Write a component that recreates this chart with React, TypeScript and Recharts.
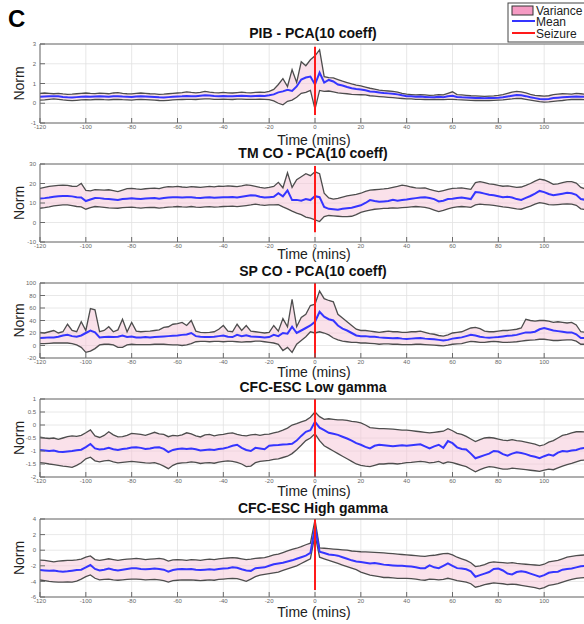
import {
  ComposedChart,
  Area,
  Line,
  XAxis,
  YAxis,
  CartesianGrid,
  ReferenceLine,
} from "recharts";

// minutes relative to seizure onset
const TIMES = [
  -120, -118, -116, -114, -112, -110, -108, -106, -104, -102,
  -100, -98, -96, -94, -92, -90, -88, -86, -84, -82,
  -80, -78, -76, -74, -72, -70, -68, -66, -64, -62,
  -60, -58, -56, -54, -52, -50, -48, -46, -44, -42,
  -40, -38, -36, -34, -32, -30, -28, -26, -24, -22,
  -20, -18, -16, -14, -12, -10, -8, -6, -4, -2,
  0, 2, 4, 6, 8, 10, 12, 14, 16, 18,
  20, 22, 24, 26, 28, 30, 32, 34, 36, 38,
  40, 42, 44, 46, 48, 50, 52, 54, 56, 58,
  60, 62, 64, 66, 68, 70, 72, 74, 76, 78,
  80, 82, 84, 86, 88, 90, 92, 94, 96, 98,
  100, 102, 104, 106, 108, 110, 112, 114, 116, 118,
  120,
];

const X_TICKS = [-120, -100, -80, -60, -40, -20, 0, 20, 40, 60, 80, 100, 120];

// PIB - PCA(10 coeff)
const PIB_MEAN = [
  0.33, 0.34, 0.35, 0.36, 0.35, 0.32, 0.3, 0.29, 0.31, 0.33,
  0.34, 0.33, 0.34, 0.35, 0.34, 0.33, 0.35, 0.36, 0.34, 0.33,
  0.32, 0.34, 0.35, 0.34, 0.33, 0.32, 0.3, 0.29, 0.31, 0.33,
  0.34, 0.35, 0.37, 0.36, 0.35, 0.38, 0.4, 0.39, 0.37, 0.36,
  0.37, 0.36, 0.35, 0.37, 0.38, 0.37, 0.36, 0.37, 0.38, 0.37,
  0.4, 0.45, 0.55, 0.6, 0.68, 0.62, 0.85, 1.2, 1.3, 1.35,
  0.95, 1.55, 1.05, 1.18, 1.1, 0.95, 0.9, 0.82, 0.76, 0.72,
  0.7, 0.66, 0.6, 0.58, 0.55, 0.52, 0.5, 0.48, 0.45, 0.4,
  0.36, 0.35, 0.33, 0.34, 0.32, 0.3, 0.31, 0.33, 0.3, 0.35,
  0.38, 0.32, 0.3, 0.29, 0.28, 0.27, 0.26, 0.25, 0.26, 0.27,
  0.28, 0.3, 0.34, 0.38, 0.42, 0.4, 0.36, 0.3, 0.26, 0.22,
  0.2, 0.22, 0.26, 0.28, 0.3, 0.32, 0.33, 0.34, 0.33, 0.32,
  0.33,
];
const PIB_UPPER = [
  0.5, 0.52, 0.5, 0.48, 0.5, 0.47, 0.45, 0.46, 0.48, 0.5,
  0.52, 0.5, 0.49, 0.51, 0.5, 0.48, 0.52, 0.54, 0.5, 0.48,
  0.47, 0.5, 0.52, 0.5, 0.48, 0.47, 0.45, 0.46, 0.48, 0.5,
  0.52, 0.54, 0.58, 0.55, 0.53, 0.55, 0.6, 0.56, 0.54, 0.53,
  0.55, 0.53, 0.52, 0.54, 0.56, 0.54, 0.53, 0.55, 0.56, 0.55,
  0.6, 0.7, 0.95, 1.25, 0.85, 1.7, 1.05, 2.1, 1.9, 2.2,
  2.4, 2.7, 1.35, 1.3, 1.28, 1.2, 1.12, 1.05, 0.98, 0.92,
  0.88, 0.82, 0.76, 0.72, 0.66, 0.64, 0.62, 0.6, 0.56, 0.5,
  0.46, 0.44, 0.42, 0.43, 0.42, 0.4, 0.41, 0.44, 0.42, 0.5,
  0.58, 0.44, 0.42, 0.4, 0.38, 0.37, 0.36, 0.35, 0.36, 0.37,
  0.4, 0.44, 0.5, 0.56, 0.6, 0.58, 0.52, 0.45, 0.4, 0.38,
  0.36, 0.38, 0.44, 0.46, 0.48, 0.47, 0.46, 0.5, 0.48, 0.46,
  0.47,
];
const PIB_LOWER = [
  0.16, 0.17, 0.2, 0.22, 0.2, 0.17, 0.15, 0.13, 0.15, 0.17,
  0.18, 0.17, 0.19, 0.2, 0.18, 0.17, 0.19, 0.2, 0.18, 0.17,
  0.16, 0.18, 0.19, 0.18, 0.17, 0.16, 0.14, 0.13, 0.15, 0.17,
  0.18, 0.19, 0.2, 0.2, 0.19, 0.21, 0.22, 0.22, 0.2, 0.2,
  0.21, 0.2, 0.19, 0.21, 0.21, 0.2, 0.2, 0.2, 0.21, 0.2,
  0.18, 0.12, 0.0, -0.08, 0.1, 0.16, 0.3, 0.5, 0.55, 0.65,
  -0.3, 0.65, 0.6, 0.62, 0.58, 0.52, 0.5, 0.48, 0.45, 0.44,
  0.43, 0.42, 0.38, 0.36, 0.34, 0.32, 0.3, 0.28, 0.26, 0.24,
  0.22, 0.22, 0.2, 0.2, 0.19, 0.18, 0.19, 0.2, 0.18, 0.2,
  0.2, 0.18, 0.17, 0.16, 0.15, 0.14, 0.14, 0.13, 0.14, 0.15,
  0.16, 0.17, 0.2, 0.22, 0.25, 0.24, 0.2, 0.16, 0.12, 0.08,
  0.06, 0.07, 0.1, 0.12, 0.14, 0.17, 0.19, 0.2, 0.19, 0.18,
  0.19,
];

// TM CO - PCA(10 coeff)
const TMCO_MEAN = [
  12.3, 12.5, 12.8, 13.2, 13.5, 13.6, 13.6, 13.4, 13.0, 12.8,
  11.0, 11.8, 12.6, 12.5, 12.2, 12.0, 11.8, 11.5, 12.0, 12.2,
  12.4, 12.2, 12.0, 12.3, 12.4, 12.5, 12.2, 12.6, 12.8, 12.9,
  13.0, 12.8, 12.9, 13.0, 12.7, 12.6, 12.8, 12.9, 12.7, 12.8,
  12.9, 13.0, 13.1, 12.8, 13.2, 13.6, 14.0, 13.8, 13.2, 12.8,
  13.0, 13.2, 15.0, 13.4, 16.5, 11.5, 11.6, 11.2, 12.0, 11.5,
  13.5, 13.0, 8.0, 7.0, 6.8, 6.6, 7.0, 7.3, 7.6, 8.2,
  8.8, 10.0, 11.5, 11.0, 10.6, 10.8, 11.0, 11.6, 11.2, 11.5,
  11.8, 12.2, 12.5, 12.8, 13.0, 12.6, 12.0, 10.8, 11.2, 12.0,
  12.2, 12.6, 12.8, 12.4, 12.0, 15.6, 15.4, 14.8, 14.2, 14.0,
  13.5, 13.0, 13.2, 12.8, 12.0, 11.6, 12.6, 13.6, 14.8, 16.2,
  15.6, 14.6, 14.0, 14.4, 14.8, 15.2, 15.0, 14.2, 12.0, 11.6,
  12.0,
];
const TMCO_UPPER = [
  17.5, 18.0, 18.5, 18.8, 19.0, 19.2, 19.0, 18.6, 18.5, 20.0,
  16.5, 16.2, 16.8, 16.7, 16.6, 16.8, 16.4, 15.8, 16.6, 17.4,
  17.5, 17.2, 17.0, 17.3, 17.5, 17.6, 17.4, 18.0, 18.4, 18.3,
  18.5, 18.2, 18.0, 18.4, 18.2, 18.0, 18.3, 18.5, 18.3, 18.6,
  18.5, 18.8, 18.6, 18.4, 18.8, 19.3, 19.0, 18.5, 18.0, 17.6,
  18.0, 18.5, 20.6, 17.8, 25.5, 18.0, 22.0, 23.5, 25.0, 24.0,
  26.0, 25.0, 15.0, 12.6, 12.0, 12.4, 13.0, 13.6, 14.0, 14.4,
  15.0, 16.0, 16.6, 16.8, 17.0, 17.2, 17.5, 18.0, 18.5, 19.2,
  18.8, 18.2, 17.8, 17.6, 17.8, 17.0, 16.4, 15.8, 16.4, 17.0,
  17.5, 17.6, 17.8, 17.4, 17.0, 20.5, 21.0, 20.4, 19.8, 19.6,
  19.0, 18.6, 18.8, 18.4, 18.0, 18.2, 19.0, 20.0, 21.2, 22.2,
  21.8, 20.8, 19.6, 19.8, 20.4, 21.0, 21.0, 20.2, 18.0, 17.2,
  17.5,
];
const TMCO_LOWER = [
  7.3, 7.6, 8.0, 8.5, 8.8, 9.0, 9.0, 8.6, 8.2, 8.0,
  6.8, 7.6, 8.2, 8.0, 7.8, 7.5, 7.4, 7.3, 7.6, 7.8,
  7.9, 7.6, 7.4, 7.6, 7.8, 7.7, 7.4, 7.6, 7.9, 8.0,
  8.2, 8.0, 7.9, 8.2, 7.9, 7.8, 8.0, 8.1, 7.9, 8.0,
  8.2, 8.3, 8.4, 8.1, 8.4, 8.7, 9.0, 9.4, 9.0, 8.8,
  9.0, 9.0, 9.2, 8.0, 7.0, 5.8, 4.8, 4.0, 2.8, 2.2,
  1.4, 0.5, 3.0, 3.6, 3.4, 3.2, 3.0, 3.0, 3.2, 4.0,
  5.2, 5.8, 6.4, 6.8, 7.0, 7.2, 7.3, 7.5, 7.4, 7.6,
  7.8, 8.0, 8.2, 8.0, 7.8, 7.2, 6.4, 5.6, 6.2, 7.0,
  7.6, 8.0, 8.2, 8.0, 7.8, 9.0, 9.4, 9.2, 9.0, 8.8,
  8.4, 8.0, 7.8, 7.4, 7.0, 6.8, 7.6, 8.4, 9.4, 10.2,
  9.8, 9.2, 9.0, 9.2, 9.4, 9.6, 9.4, 8.8, 7.0, 6.6,
  7.0,
];

// SP CO - PCA(10 coeff)
const SPCO_MEAN = [
  12, 12.5, 13, 13, 14, 16, 17, 15, 14, 16,
  20, 24, 21, 13, 13.5, 14, 13.5, 14, 16, 13.5,
  14.5, 13, 13, 13.5, 13, 13.5, 14, 14.5, 15, 15.5,
  16, 17, 17.5, 20, 15, 14, 13.5, 13.5, 14, 15,
  16, 14, 13.5, 17, 15, 16.5, 14.5, 14, 13.5, 13,
  13.5, 17, 15, 20, 19, 30, 20, 24, 28, 32,
  38, 54, 46, 42, 40, 32, 27, 24, 20, 16,
  15, 15, 14, 14, 13, 12.5, 12, 11.5, 12, 11,
  10.5, 11, 11.5, 12, 11, 10.5, 10, 9, 8, 9,
  11, 12, 13, 15, 17, 16, 14, 13, 12.5, 13,
  13.5, 14.5, 15.5, 16, 17, 19, 21, 21, 22, 26,
  28, 26, 24, 23, 22, 21, 21, 18, 12, 12,
  12.5,
];
const SPCO_UPPER = [
  21, 20, 22, 24, 20, 22, 34, 24, 22, 38,
  24, 59, 57, 22, 24, 30, 22, 25, 42, 22,
  37, 23, 22, 22.5, 23, 24, 25, 29, 30, 34,
  35, 37, 32, 40, 23, 21, 20.5, 21, 22, 26,
  32, 23, 22, 34, 24, 32, 23, 22, 21, 20,
  21, 32, 23, 43, 30, 74, 30, 45, 50, 64,
  66, 87, 75, 72, 70, 50, 44, 38, 32, 26,
  24, 24, 23, 22, 21, 22, 23, 22, 22, 21,
  21, 22, 22, 23, 21, 19, 18, 16, 15, 17,
  20, 21, 22, 25, 28, 29, 27, 23, 22, 22,
  23, 24, 24, 25, 26, 28, 42, 40, 39, 40,
  40, 39, 37, 38, 37, 36, 37, 33, 22, 21,
  22,
];
const SPCO_LOWER = [
  3, 3, 3.5, 4, 4, 4, 4, 3, 1, -3,
  -11, -9, -5, 1, 2, 2, 1, -3, -3, 1,
  2, 1.5, 1.5, 1.5, 1.5, 2, 2, 2, 1.5, 1,
  1, 0, 1, 3, 6, 6.5, 6.5, 6, 6.5, 6.5,
  6, 6.5, 6.5, 6, 5.5, 6, 6, 7, 7, 6,
  5, 4, 2, -8, -3, -11, 2, 8, 14, 22,
  20, 22, 20, 17, 12, 9, 7, 6, 5, 5,
  4, 4, 3.5, 3, 2, 2.5, 2.5, 2, 2, 1.5,
  1.5, 1.5, 2, 2, 1.5, 1, 0.5, 0, -0.5, 0.5,
  2, 2.5, 3, 5, 6.5, 6, 5, 5, 6, 6.5,
  6, 5, 5, 5.5, 6, 7, 8, 8.5, 9, 10,
  10, 9, 8, 8, 8.5, 9, 9, 7, 2, 2,
  2.5,
];

// CFC-ESC Low gamma
const LOWG_MEAN = [
  -0.96, -0.98, -1.0, -0.98, -1.03, -1.04, -1.02, -1.0, -0.97, -0.95,
  -0.85, -0.73, -0.9, -0.94, -0.92, -0.88, -0.93, -0.96, -0.92, -0.9,
  -0.87, -0.86, -0.88, -0.92, -0.9, -0.87, -0.86, -0.92, -1.04, -0.96,
  -0.92, -0.9, -0.92, -0.9, -0.93, -0.98, -0.96, -0.94, -0.96, -0.92,
  -0.9, -0.86, -0.8, -0.76, -0.88, -0.96, -1.0, -0.88, -0.9, -0.93,
  -0.8, -0.78, -0.77, -0.75, -0.74, -0.72, -0.6, -0.42, -0.26, -0.2,
  0.12, -0.1, -0.2, -0.3, -0.34, -0.38, -0.45, -0.52, -0.6, -0.7,
  -0.76, -0.84, -0.9, -0.8, -0.76, -0.78, -0.8, -0.82, -0.8, -0.78,
  -0.8, -0.78, -0.76, -0.74, -0.82, -0.9, -0.82, -0.76, -0.88, -0.62,
  -0.7, -0.86, -0.92, -0.94, -1.1, -1.28, -1.22, -1.16, -1.1, -1.0,
  -1.02, -1.12, -1.18, -1.1, -1.05, -1.08, -1.12, -1.18, -1.22, -1.28,
  -1.2, -1.14, -1.18, -1.06, -1.0, -1.02, -0.98, -0.96, -0.9, -0.88,
  -0.9,
];
const LOWG_UPPER = [
  -0.47, -0.5, -0.52, -0.5, -0.55, -0.5, -0.45, -0.42, -0.44, -0.4,
  -0.3, -0.19, -0.42, -0.48, -0.4, -0.26, -0.38, -0.46, -0.45, -0.4,
  -0.32, -0.34, -0.36, -0.4, -0.34, -0.28, -0.34, -0.36, -0.45, -0.4,
  -0.42, -0.38, -0.3, -0.34, -0.42, -0.46, -0.38, -0.36, -0.42, -0.38,
  -0.36, -0.32, -0.3, -0.36, -0.4, -0.42, -0.38, -0.36, -0.4, -0.36,
  -0.35, -0.3, -0.26, -0.2, -0.12, 0.0, 0.05, 0.12, 0.18, 0.3,
  0.5, 0.32, 0.22, 0.24, 0.22, 0.2, 0.2, 0.18, 0.14, 0.12,
  0.08, 0.0, -0.1, -0.12, -0.14, -0.14, -0.15, -0.16, -0.18, -0.2,
  -0.2, -0.22, -0.24, -0.26, -0.28, -0.3, -0.28, -0.26, -0.24, -0.14,
  -0.22, -0.32, -0.36, -0.44, -0.54, -0.64, -0.56, -0.5, -0.48, -0.5,
  -0.54, -0.58, -0.6, -0.56, -0.6, -0.62, -0.66, -0.7, -0.74, -0.8,
  -0.76, -0.66, -0.6, -0.5, -0.4, -0.36, -0.3, -0.26, -0.26, -0.27,
  -0.28,
];
const LOWG_LOWER = [
  -1.45, -1.47, -1.5, -1.52, -1.55, -1.58, -1.6, -1.63, -1.55, -1.45,
  -1.3, -1.24, -1.38, -1.42, -1.38, -1.36, -1.42, -1.46, -1.44, -1.42,
  -1.4, -1.42, -1.44, -1.46, -1.47, -1.45, -1.5, -1.58, -1.68, -1.55,
  -1.48, -1.46, -1.45, -1.42, -1.44, -1.48, -1.46, -1.45, -1.47, -1.43,
  -1.4, -1.38, -1.4, -1.44, -1.5, -1.6, -1.58, -1.45, -1.4, -1.38,
  -1.36, -1.32, -1.3, -1.25, -1.2, -1.1, -0.95, -0.78, -0.6, -0.5,
  -0.34, -0.6, -0.8, -0.9, -1.0, -1.1, -1.2, -1.3, -1.4, -1.5,
  -1.55, -1.58, -1.6, -1.55, -1.5, -1.5, -1.48, -1.48, -1.5, -1.48,
  -1.45, -1.44, -1.42, -1.4, -1.42, -1.46, -1.44, -1.4, -1.48, -1.42,
  -1.45, -1.5, -1.55, -1.6, -1.7, -1.8, -1.72, -1.65, -1.6, -1.62,
  -1.66, -1.7, -1.7, -1.66, -1.68, -1.7, -1.72, -1.74, -1.76, -1.78,
  -1.74, -1.7, -1.72, -1.65, -1.58, -1.52, -1.48, -1.42, -1.36, -1.35,
  -1.36,
];

// CFC-ESC High gamma
const HIGHG_MEAN = [
  -2.54, -2.6, -2.65, -2.6, -2.7, -2.75, -2.7, -2.62, -2.55, -2.5,
  -2.2, -1.9, -2.4, -2.6, -2.5, -2.35, -2.5, -2.6, -2.5, -2.4,
  -2.3, -2.3, -2.4, -2.45, -2.4, -2.35, -2.4, -2.5, -2.75, -2.55,
  -2.45, -2.4, -2.45, -2.4, -2.5, -2.55, -2.5, -2.45, -2.5, -2.4,
  -2.35, -2.3, -2.2, -2.25, -2.45, -2.6, -2.65, -2.3, -2.25, -2.2,
  -2.0, -1.8, -1.7, -1.6, -1.45, -1.3, -1.1, -0.9, -0.7, -0.35,
  3.0, -0.2, -0.35, -0.55, -0.6, -0.7, -0.9, -1.1, -1.3, -1.45,
  -1.5, -1.6, -1.7, -1.65, -1.75, -1.85, -1.9, -1.95, -2.0, -2.0,
  -2.05, -2.1, -2.2, -2.3, -2.3, -1.95, -2.2, -2.3, -2.0, -1.7,
  -2.0, -2.3, -2.35, -2.45, -2.7, -3.4, -3.2, -3.0, -2.8, -2.4,
  -2.35, -2.6, -3.0, -3.1, -2.8, -2.7, -2.8, -3.0, -3.2, -3.4,
  -3.2, -2.9, -2.8, -2.75, -2.5, -2.4, -2.35, -2.2, -2.05, -2.0,
  -2.1,
];
const HIGHG_UPPER = [
  -1.26, -1.3, -1.4, -1.5, -1.4, -1.35, -1.3, -1.3, -1.25, -1.15,
  -0.9, -0.74, -1.2, -1.3, -1.2, -1.1, -1.2, -1.3, -1.2, -1.15,
  -1.1, -1.05, -1.1, -1.2, -1.15, -1.1, -1.05, -1.15, -1.4, -1.25,
  -1.2, -1.25, -1.3, -1.2, -1.25, -1.3, -1.2, -1.15, -1.2, -1.1,
  -1.05, -1.0, -0.95, -1.0, -1.1, -1.2, -1.15, -1.05, -1.0, -0.95,
  -0.8, -0.6, -0.5, -0.3, -0.1, 0.1, 0.25, 0.45, 0.7, 0.9,
  3.9, 0.3, 0.25, 0.2, 0.15, 0.1, 0.05, 0.0, -0.1, -0.15,
  -0.2, -0.22, -0.25, -0.28, -0.3, -0.35, -0.4, -0.45, -0.5, -0.55,
  -0.6, -0.65, -0.7, -0.75, -0.8, -0.7, -0.65, -0.55, -0.45, -0.4,
  -0.6, -0.9, -1.1, -1.3, -1.6, -2.1, -2.0, -1.85, -1.6, -1.5,
  -1.55, -1.6, -1.65, -1.6, -1.7, -1.75, -1.8, -1.85, -1.9, -1.95,
  -1.8, -1.5, -1.4, -1.3, -1.1, -0.9, -0.8, -0.7, -0.65, -0.6,
  -0.65,
];
const HIGHG_LOWER = [
  -3.82, -3.9, -4.0, -4.05, -4.1, -4.1, -4.05, -4.1, -3.95, -3.7,
  -3.4, -3.18, -3.6, -3.8, -3.75, -3.7, -3.8, -3.85, -3.8, -3.75,
  -3.7, -3.72, -3.75, -3.8, -3.78, -3.75, -3.8, -3.9, -4.1, -3.9,
  -3.85, -3.8, -3.82, -3.8, -3.85, -3.9, -3.85, -3.8, -3.85, -3.75,
  -3.7, -3.65, -3.6, -3.65, -3.8, -4.0, -3.7, -3.4, -3.2, -3.1,
  -3.0, -2.9, -2.8, -2.6, -2.4, -2.2, -2.0, -1.7, -1.4, -1.1,
  2.0, -0.9, -1.1, -1.3, -1.5, -1.7, -1.9, -2.1, -2.3, -2.5,
  -2.8, -3.0, -3.2, -3.3, -3.4, -3.5, -3.5, -3.55, -3.6, -3.6,
  -3.62, -3.65, -3.7, -3.8, -3.85, -3.7, -3.75, -3.8, -3.75, -3.6,
  -3.75, -3.9, -4.0, -4.1, -4.3, -4.75, -4.6, -4.4, -4.3, -4.2,
  -4.25, -4.3, -4.4, -4.35, -4.4, -4.5, -4.6, -4.7, -4.8, -4.95,
  -4.8, -4.5, -4.4, -4.3, -4.1, -3.9, -3.75, -3.6, -3.55, -3.5,
  -3.55,
];

const TITLES = [
  "PIB - PCA(10 coeff)",
  "TM CO - PCA(10 coeff)",
  "SP CO - PCA(10 coeff)",
  "CFC-ESC Low gamma",
  "CFC-ESC High gamma",
];

const Y_TICKS = [
  [-1, 0, 1, 2, 3],
  [-10, 0, 10, 20, 30],
  [-20, 0, 20, 40, 60, 80, 100],
  [-2, -1.5, -1, -0.5, 0, 0.5, 1],
  [-6, -4, -2, 0, 2, 4],
];

// extent of the red seizure marker, in y units of each panel
const SEIZURE_SPAN = [
  [-0.6, 2.86],
  [-5, 29],
  [-20, 100],
  [-2, 1],
  [-5.1, 4],
];

const SERIES = [
  { mean: PIB_MEAN, upper: PIB_UPPER, lower: PIB_LOWER },
  { mean: TMCO_MEAN, upper: TMCO_UPPER, lower: TMCO_LOWER },
  { mean: SPCO_MEAN, upper: SPCO_UPPER, lower: SPCO_LOWER },
  { mean: LOWG_MEAN, upper: LOWG_UPPER, lower: LOWG_LOWER },
  { mean: HIGHG_MEAN, upper: HIGHG_UPPER, lower: HIGHG_LOWER },
];

// page layout (px): plot-area top/height, title and x-label baselines
const LAYOUT = [
  { top: 44, height: 79, titleY: 37.5, labelY: 145 },
  { top: 164, height: 78, titleY: 157.5, labelY: 258.5 },
  { top: 283, height: 75, titleY: 276, labelY: 376.5 },
  { top: 399, height: 78, titleY: 391.5, labelY: 496 },
  { top: 519, height: 78, titleY: 512.5, labelY: 617 },
];

const FONT = '"Liberation Sans", Arial, Helvetica, sans-serif';
const TOP_AXIS_H = 4;
const BOTTOM_AXIS_H = 14;
const CHART_W = 600;
const BOX = "#6a6a6a";
const TICK_FONT = { fontSize: 6, fill: "#666", fontFamily: FONT };

// the 120 label sits past the cropped right edge in the original figure
const xTickText = (v: number) => (v === 120 ? "" : String(v));

function Panel({ index }: { index: number }) {
  const { mean, upper, lower } = SERIES[index];
  const layout = LAYOUT[index];
  const yTicks = Y_TICKS[index];
  const yDomain = [yTicks[0], yTicks[yTicks.length - 1]];
  const [s0, s1] = SEIZURE_SPAN[index];

  const rows = TIMES.map((t, i) => ({
    t,
    mean: mean[i],
    upper: upper[i],
    lower: lower[i],
    band: [lower[i], upper[i]],
  }));

  return (
    <div style={{ position: "absolute", left: 0, top: layout.top - TOP_AXIS_H }}>
      <ComposedChart
        width={CHART_W}
        height={TOP_AXIS_H + layout.height + BOTTOM_AXIS_H}
        data={rows}
        margin={{ top: 0, right: 0, bottom: 0, left: 10 }}
      >
        <CartesianGrid stroke="#e2e2e2" strokeWidth={0.8} />
        <Area
          dataKey="band"
          type="linear"
          fill="#f6c3d6"
          fillOpacity={0.5}
          stroke="none"
          isAnimationActive={false}
        />
        <Line
          dataKey="upper"
          type="linear"
          stroke="#4d4d4d"
          strokeWidth={1.3}
          dot={false}
          isAnimationActive={false}
        />
        <Line
          dataKey="lower"
          type="linear"
          stroke="#4d4d4d"
          strokeWidth={1.3}
          dot={false}
          isAnimationActive={false}
        />
        <Line
          dataKey="mean"
          type="linear"
          stroke="#3535ff"
          strokeWidth={2}
          dot={false}
          isAnimationActive={false}
        />
        <ReferenceLine
          segment={[
            { x: 0, y: s0 },
            { x: 0, y: s1 },
          ]}
          stroke="#ff1a1a"
          strokeWidth={2}
        />
        <XAxis
          dataKey="t"
          type="number"
          domain={[-120, 120]}
          ticks={X_TICKS}
          interval={0}
          height={BOTTOM_AXIS_H}
          tickSize={-5}
          tickMargin={7}
          tick={TICK_FONT}
          tickFormatter={xTickText}
          stroke={BOX}
          allowDataOverflow
        />
        <XAxis
          xAxisId="top"
          orientation="top"
          dataKey="t"
          type="number"
          domain={[-120, 120]}
          ticks={X_TICKS}
          interval={0}
          height={TOP_AXIS_H}
          tickSize={-5}
          tick={false}
          stroke={BOX}
          allowDataOverflow
        />
        <YAxis
          type="number"
          domain={yDomain}
          ticks={yTicks}
          interval={0}
          width={30}
          tickSize={-5}
          tickMargin={9}
          tick={TICK_FONT}
          stroke={BOX}
          allowDataOverflow
        />
        <YAxis
          yAxisId="right"
          orientation="right"
          type="number"
          domain={yDomain}
          ticks={yTicks}
          interval={0}
          width={10}
          tickSize={-5}
          tick={false}
          stroke={BOX}
          allowDataOverflow
        />
      </ComposedChart>
    </div>
  );
}

function Labels() {
  return (
    <svg
      width={584}
      height={624}
      style={{ position: "absolute", left: 0, top: 0, pointerEvents: "none" }}
      fontFamily={FONT}
    >
      <text x={8} y={27} fontSize={24} fontWeight="bold" fill="#000">
        C
      </text>
      {LAYOUT.map((l, i) => (
        <g key={i}>
          <text
            x={313}
            y={l.titleY}
            fontSize={14}
            fontWeight="bold"
            textAnchor="middle"
            fill="#111"
          >
            {TITLES[i]}
          </text>
          <text x={314} y={l.labelY} fontSize={14} textAnchor="middle" fill="#222">
            Time (mins)
          </text>
          <text
            transform={`translate(24, ${l.top + l.height / 2}) rotate(-90)`}
            fontSize={14}
            textAnchor="middle"
            fill="#222"
          >
            Norm
          </text>
        </g>
      ))}
      <g>
        <rect x={508} y={3} width={90} height={39} fill="#fff" stroke="#444" strokeWidth={1} />
        <rect x={512} y={6} width={21} height={9} fill="#f59bc3" stroke="#333" strokeWidth={1} />
        <text x={536} y={14.5} fontSize={12} fill="#222">
          Variance
        </text>
        <line x1={512} y1={21} x2={535} y2={21} stroke="#3535ff" strokeWidth={2} />
        <text x={536} y={25.5} fontSize={12} fill="#222">
          Mean
        </text>
        <line x1={512} y1={33} x2={535} y2={33} stroke="#ff1a1a" strokeWidth={2} />
        <text x={536} y={37.5} fontSize={12} fill="#222">
          Seizure
        </text>
      </g>
    </svg>
  );
}

export default function App() {
  return (
    <div
      style={{
        position: "absolute",
        left: 0,
        top: 0,
        width: 584,
        height: 624,
        overflow: "hidden",
        background: "#fff",
      }}
    >
      {LAYOUT.map((_, i) => (
        <Panel key={i} index={i} />
      ))}
      <Labels />
    </div>
  );
}
